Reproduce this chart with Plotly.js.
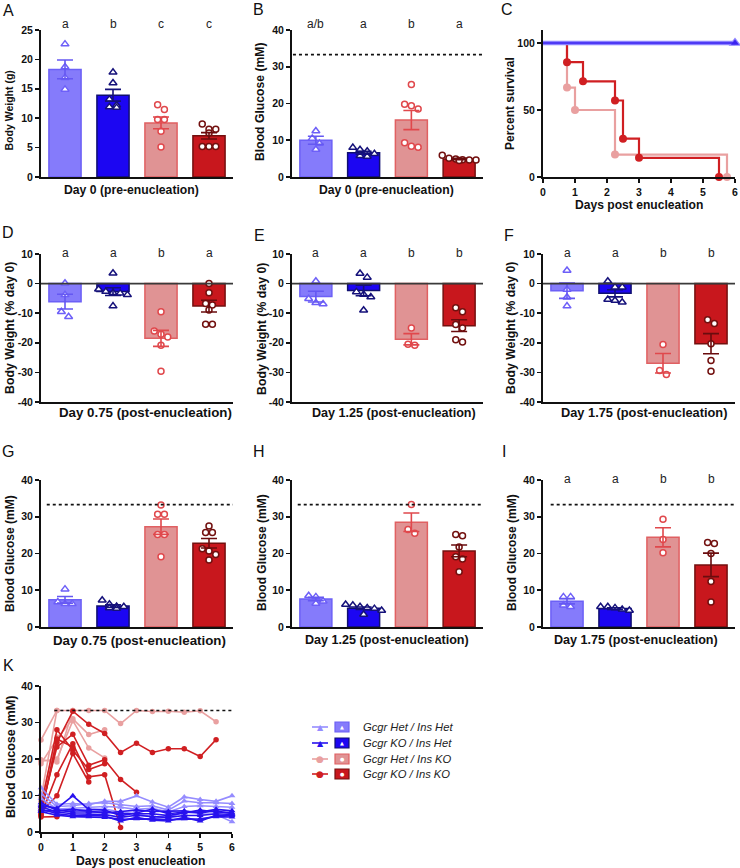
<!DOCTYPE html>
<html><head><meta charset="utf-8">
<script src="https://cdn.plot.ly/plotly-3.0.1.min.js"></script>
<style>html,body{margin:0;padding:0;background:#fff}#chart{width:740px;height:868px}</style>
</head><body><div id="chart"></div>
<script>
// ================= DATA =================
const groups = ['Gcgr Het / Ins Het', 'Gcgr KO / Ins Het', 'Gcgr Het / Ins KO', 'Gcgr KO / Ins KO'];

// A: body weight day 0 (g)
const bwDay0Pts = [[22.6,18.7,16.9,14.9],[17.8,16.0,13.2,12.2,11.9,11.8],[12.3,11.5,9.8,9.8,7.8,5.1],[9.0,8.1,8.1,7.5,5.2,5.2,5.2]];
const bwDay0Mean = [18.3, 13.9, 9.2, 7.0];
const bwDay0Sem = [1.6, 1.0, 1.0, 0.55];
const bwDay0Sig = ['a','b','c','c'];

// B: blood glucose day 0 (mM)
const bgDay0Pts = [[12.5,10.5,9.1,7.5],[8.0,7.4,7.0,6.3,5.8,5.6],[25.2,19.8,19.4,18.5,9.3,8.4,8.1],[5.9,5.1,4.9,4.7,4.6,4.6,4.5]];
const bgDay0Mean = [10.0, 6.6, 15.5, 4.9];
const bgDay0Sem = [1.1, 0.4, 2.6, 0.2];
const bgDay0Sig = ['a/b','a','b','a'];

// C: survival (%)
const survTimeHet = [0, 6];
const survHetHet = [100, 100];
const survKOHet = [100, 100];
const survTimeHetKO = [0, 0.75, 1, 2.25, 5.75];
const survHetKO = [100, 66.7, 50, 16.7, 0];
const survTimeKOKO = [0, 0.75, 1.25, 2.25, 2.5, 3, 5.5];
const survKOKO = [100, 85.7, 71.4, 57.1, 28.6, 14.3, 0];

// D: body weight % day 0, day 0.75
const bw075Pts = [[0.1,-3.8,-9.5,-11.2],[3.5,-1.9,-2.7,-3.1,-3.3,-3.8,-7.6],[-9.5,-16.0,-17.1,-18.0,-20.8,-29.6],[0.0,-3.1,-6.7,-7.2,-8.9,-13.7,-13.7]];
const bw075Mean = [-6.1, -2.7, -18.5, -7.6];
const bw075Sem = [2.5, 1.3, 2.7, 2.0];
const bw075Sig = ['a','a','b','a'];

// E: day 1.25
const bw125Pts = [[0.8,-5.1,-6.5,-6.9],[3.4,2.1,-2.8,-3.7,-4.5,-9.0],[-15.0,-20.5,-20.8],[-8.2,-9.5,-13.8,-15.0,-19.0,-19.7]];
const bw125Mean = [-4.4, -2.3, -18.8, -14.2];
const bw125Sem = [1.8, 1.8, 1.9, 2.0];
const bw125Sig = ['a','a','b','b'];

// F: day 1.75
const bw175Pts = [[4.4,-2.0,-4.6,-7.6],[0.8,-1.2,-1.2,-5.4,-5.7,-6.3],[-20.6,-29.4,-30.7],[-12.2,-13.5,-20.3,-26.0,-29.6]];
const bw175Mean = [-2.4, -3.3, -26.9, -20.3];
const bw175Sem = [2.6, 1.2, 3.3, 3.4];
const bw175Sig = ['a','a','b','b'];

// G: blood glucose day 0.75
const bg075Pts = [[10.3,6.8,6.3,6.3],[7.3,6.2,5.6,5.5,5.2,5.0],[33.2,30.7,30.7,25.2,25.2,19.1],[27.5,25.7,25.7,21.3,20.7,19.7,18.2]];
const bg075Mean = [7.4, 5.7, 27.3, 22.8];
const bg075Sem = [0.9, 0.35, 2.1, 1.3];

// H: day 1.25
const bg125Pts = [[8.5,8.2,7.0,6.4],[6.1,5.9,5.5,5.2,5.0,4.5,3.4],[33.3,26.5,25.5],[25.2,24.8,21.8,19.1,18.5,15.0]];
const bg125Mean = [7.6, 5.1, 28.5, 20.7];
const bg125Sem = [0.45, 0.35, 2.5, 1.6];

// I: day 1.75
const bg175Pts = [[8.2,8.2,5.9,5.5],[5.5,5.5,5.2,4.8,4.5],[29.3,23.8,20.2],[23.0,22.7,20.0,12.4,6.8]];
const bg175Mean = [7.0, 5.0, 24.4, 16.9];
const bg175Sem = [0.7, 0.25, 2.6, 3.2];
const bg175Sig = ['a','a','b','b'];

// glucometer upper limit (mM)
const meterMax = 33.3;

// K: individual blood glucose over time
const days = [0,0.5,1,1.5,2,2.5,3,3.5,4,4.5,5,5.5,6];
const kHetHet = [
  [12.1,7.6,7.8,7.5,8.4,8.4,9.9,8.2,6.8,9.6,8.9,8.4,9.9],
  [10.5,7.0,7.2,7.8,8.0,7.5,7.0,7.2,6.0,8.5,8.0,8.0,7.8],
  [9.2,6.3,6.5,6.8,7.0,6.8,6.2,6.5,5.5,7.0,7.2,7.0,6.8],
  [7.6,6.0,6.0,6.2,6.3,5.5,5.0,4.2,4.0,5.5,5.0,4.8,2.8]];
const kKOHet = [
  [7.3,6.5,9.9,6.2,6.0,4.5,5.2,6.3,5.0,5.5,5.5,6.2,5.8],
  [8.0,6.0,5.5,5.5,5.5,5.0,5.0,5.0,4.5,5.2,6.0,5.5,5.3],
  [6.9,5.5,5.0,5.0,4.8,4.0,4.6,4.2,4.0,4.5,4.5,5.0,4.8],
  [6.3,5.0,4.5,4.6,4.4,3.0,4.0,3.2,3.0,4.0,3.0,4.6,4.5],
  [5.6,4.6,4.2,4.2,4.0,3.5,3.6,3.6,3.4,3.6,3.6,4.2,4.1],
  [5.8,5.8,6.2,5.6,5.2,5.6,6.0,5.6,5.6,5.8,5.2,5.8,5.0]];
const kHetKO = [
  [25.2,33.3,33.3,33.3,33.3,29.7,33.3,33.0,33.1,32.8,33.2,30.2],
  [18.7,25.5,31.0,26.7,28.0],
  [19.4,20.0,30.5,23.0,20.3],
  [19.8,19.2,33.3],
  [9.3,33.3],
  [8.4,26.0]];
const kKOKO = [
  [5.0,24.5,33.1,29.5,27.0,21.8,24.3,21.8,22.8,22.8,20.7,25.3],
  [6.0,23.3,26.8,18.3,19.8,14.4,10.9],
  [4.5,15.7,24.2,15.1,15.7,1.2],
  [7.0,28.0,22.4,17.1,18.7],
  [5.5,9.9,21.5,13.7],
  [4.8,25.5,23.3],
  [4.1,4.2]];

// ================= STYLE / LAYOUT =================
const W = 740, H = 868;
const FONT = 'Liberation Sans, Arial, Helvetica, sans-serif';
const barFill = ['#857bfb', '#1c06f2', '#e09394', '#c8171d'];
const barEdge = ['#6c60f6', '#101070', '#e06062', '#74100f'];
const ptEdge  = ['#6d5ff8', '#15117a', '#e0484c', '#72100f'];
const errCol  = ['#6558f2', '#15117a', '#e0484c', '#6a0c0e'];
const lineCol = ['#958cff', '#2812ee', '#e9a0a0', '#d01f22'];

const layout = {
  width: W, height: H, margin: {l:0, r:0, t:0, b:0},
  paper_bgcolor: '#ffffff', plot_bgcolor: 'rgba(0,0,0,0)',
  showlegend: false, barmode: 'overlay',
  font: {family: FONT, color: '#111'},
  annotations: [], shapes: []
};
const traces = [];

function sfx(n){ return n === 1 ? '' : String(n); }
function ann(text, px, py, o){
  layout.annotations.push(Object.assign({text: text, x: px / W, y: 1 - py / H, xref: 'paper', yref: 'paper',
    showarrow: false, xanchor: 'center', yanchor: 'middle',
    font: {family: FONT, size: 12, color: '#111'}}, o || {}));
}
function bold(size){ return {family: FONT, size: size, color: '#111', weight: 'bold'}; }

function addAxes(p, xopt, yopt){
  const s = sfx(p.n);
  layout['xaxis' + s] = Object.assign({domain: [p.x0 / W, p.x1 / W], anchor: 'y' + s, showline: true, linewidth: 2,
    linecolor: '#111', showgrid: false, zeroline: false, ticks: '', showticklabels: false, fixedrange: true}, xopt || {});
  layout['yaxis' + s] = Object.assign({domain: [1 - p.yB / H, 1 - p.yT / H], anchor: 'x' + s, showline: true,
    linewidth: 2, linecolor: '#111', showgrid: false, zeroline: false, ticks: 'outside', ticklen: 4, tickwidth: 1.6,
    tickcolor: '#111', range: p.yr, tickfont: bold(10.5), fixedrange: true}, yopt || {});
}

function swarmOffsets(vals, pxPerUnit, pxPerCat, size){
  const idx = vals.map((v, i) => i).sort((a, b) => vals[b] - vals[a]);
  const off = new Array(vals.length).fill(0);
  let row = [], rowTop = null;
  const flush = () => { row.forEach((i, j) => { off[i] = (j - (row.length - 1) / 2) * size * 0.9 / pxPerCat; }); row = []; };
  for (const i of idx){
    const y = vals[i] * pxPerUnit;
    if (row.length && row.length < 6 && rowTop - y < size * 0.85) row.push(i);
    else { flush(); row = [i]; rowTop = y; }
  }
  flush();
  return off;
}

function tickArr(lo, hi, step){ const v = []; for (let t = lo; t <= hi + 1e-9; t += step) v.push(t); return v; }

function barPanel(p, pts, mean, sem){
  const s = sfx(p.n);
  const tv = tickArr(p.yr[0], p.yr[1], p.dt);
  addAxes(p, {range: [-0.5, 3.5]}, {tickmode: 'array', tickvals: tv, ticktext: tv.map(String)});
  const pxPerUnit = (p.yB - p.yT) / (p.yr[1] - p.yr[0]);
  const pxPerCat = (p.x1 - p.x0) / 4;
  for (let g = 0; g < 4; g++){
    traces.push({type: 'bar', x: [g], y: [mean[g]], width: 0.67, xaxis: 'x' + s, yaxis: 'y' + s,
      marker: {color: barFill[g], line: {color: barEdge[g], width: 1.5}}, hoverinfo: 'skip', name: groups[g]});
  }
  for (let g = 0; g < 4; g++){
    const tri = g < 2;
    const off = swarmOffsets(pts[g], pxPerUnit, pxPerCat, tri ? 8 : 7.5);
    traces.push({type: 'scatter', mode: 'markers', x: pts[g].map((v, i) => g + off[i]), y: pts[g],
      xaxis: 'x' + s, yaxis: 'y' + s, cliponaxis: false, hoverinfo: 'skip', name: groups[g],
      marker: {symbol: tri ? 'triangle-up' : 'circle', size: tri ? 7 : 6, color: '#ffffff',
        line: {color: ptEdge[g], width: 1.5}}});
  }
  for (let g = 0; g < 4; g++){
    traces.push({type: 'scatter', mode: 'markers', x: [g], y: [mean[g]], xaxis: 'x' + s, yaxis: 'y' + s,
      cliponaxis: false, hoverinfo: 'skip', name: groups[g], marker: {size: 1, color: 'rgba(0,0,0,0)'},
      error_y: {type: 'data', array: [sem[g]], visible: true, color: errCol[g], thickness: 1.6, width: 8}});
  }
}

function sig(p, letters, py){
  letters.forEach((t, g) => {
    layout.annotations.push({text: t, x: g, xref: 'x' + sfx(p.n), y: 1 - py / H, yref: 'paper', showarrow: false,
      xanchor: 'center', yanchor: 'middle', font: {family: FONT, size: 12, color: '#222'}});
  });
}
function dotted(p, val, fromFrac){
  layout.shapes.push({type: 'line', xref: 'x' + sfx(p.n) + ' domain', yref: 'y' + sfx(p.n), x0: fromFrac, x1: 1,
    y0: val, y1: val, line: {color: '#111', width: 1.6, dash: 'dot'}});
}
function zeroLine(p){
  layout.shapes.push({type: 'line', xref: 'x' + sfx(p.n) + ' domain', yref: 'y' + sfx(p.n), x0: 0, x1: 1,
    y0: 0, y1: 0, layer: 'above', line: {color: '#3a3a3a', width: 1.6}});
}

// ---- panel geometry (pixels) ----
const pA = {n: 1, x0: 41, x1: 233, yT: 30, yB: 177, yr: [0, 25], dt: 5};
const pB = {n: 2, x0: 292, x1: 483, yT: 30, yB: 177, yr: [0, 40], dt: 10};
const pC = {n: 3, x0: 543, x1: 735, yT: 29.6, yB: 177, yr: [0, 110]};
const pD = {n: 4, x0: 41, x1: 233, yT: 254, yB: 402, yr: [-40, 10], dt: 10};
const pE = {n: 5, x0: 292, x1: 483, yT: 254, yB: 402, yr: [-40, 10], dt: 10};
const pF = {n: 6, x0: 543, x1: 735, yT: 254, yB: 402, yr: [-40, 10], dt: 10};
const pG = {n: 7, x0: 41, x1: 233, yT: 480, yB: 627, yr: [0, 40], dt: 10};
const pH = {n: 8, x0: 292, x1: 483, yT: 480, yB: 627, yr: [0, 40], dt: 10};
const pI = {n: 9, x0: 543, x1: 735, yT: 480, yB: 627, yr: [0, 40], dt: 10};
const pK = {n: 10, x0: 41, x1: 232, yT: 686, yB: 832, yr: [0, 40], dt: 10};

// ---- bar panels ----
barPanel(pA, bwDay0Pts, bwDay0Mean, bwDay0Sem);
barPanel(pB, bgDay0Pts, bgDay0Mean, bgDay0Sem);
barPanel(pD, bw075Pts, bw075Mean, bw075Sem);
barPanel(pE, bw125Pts, bw125Mean, bw125Sem);
barPanel(pF, bw175Pts, bw175Mean, bw175Sem);
barPanel(pG, bg075Pts, bg075Mean, bg075Sem);
barPanel(pH, bg125Pts, bg125Mean, bg125Sem);
barPanel(pI, bg175Pts, bg175Mean, bg175Sem);

sig(pA, bwDay0Sig, 24); sig(pB, bgDay0Sig, 24);
sig(pD, bw075Sig, 253); sig(pE, bw125Sig, 253); sig(pF, bw175Sig, 253);
sig(pI, bg175Sig, 479);
dotted(pB, meterMax, 0.005); dotted(pG, meterMax, 0.03); dotted(pH, meterMax, 0.03); dotted(pI, meterMax, 0.04);
zeroLine(pD); zeroLine(pE); zeroLine(pF);

// ---- C: survival ----
addAxes(pC, {range: [0, 6], ticks: 'outside', ticklen: 4, tickwidth: 1.6, tickcolor: '#111', showticklabels: true,
  tickfont: bold(10.5), tickmode: 'array', tickvals: [0,1,2,3,4,5,6]},
  {tickmode: 'array', tickvals: [0, 50, 100]});
function survLine(t, s, col, w, sym, msize, markAll){
  traces.push({type: 'scatter', mode: 'lines', x: t, y: s, line: {shape: 'hv', color: col, width: w},
    xaxis: 'x3', yaxis: 'y3', cliponaxis: false, hoverinfo: 'skip'});
  traces.push({type: 'scatter', mode: 'markers', x: t.slice(1), y: s.slice(1), xaxis: 'x3', yaxis: 'y3',
    cliponaxis: false, hoverinfo: 'skip', marker: {symbol: sym, size: msize, color: col}});
}
survLine(survTimeHetKO, survHetKO, lineCol[2], 2.2, 'circle', 8);
survLine(survTimeKOKO, survKOKO, lineCol[3], 2.2, 'circle', 8);
survLine(survTimeHet, survHetHet, '#8c82ff', 4.5, 'triangle-up', 11);
survLine(survTimeHet, survKOHet, '#3a22f0', 1.6, 'triangle-up', 7);

// ---- K: time course ----
addAxes(pK, {range: [0, 6], ticks: 'outside', ticklen: 4, tickwidth: 1.6, tickcolor: '#111', showticklabels: true,
  tickfont: bold(10.5), tickmode: 'array', tickvals: [0,1,2,3,4,5,6]},
  {tickmode: 'array', tickvals: [0,10,20,30,40]});
function kLines(sets, g, sym, size){
  sets.forEach(v => traces.push({type: 'scatter', mode: 'lines+markers', x: days.slice(0, v.length), y: v,
    xaxis: 'x10', yaxis: 'y10', cliponaxis: false, hoverinfo: 'skip', name: groups[g],
    line: {color: lineCol[g], width: 1.6}, marker: {symbol: sym, size: size, color: lineCol[g]}}));
}
kLines(kHetKO, 2, 'circle', 5.5);
kLines(kKOKO, 3, 'circle', 5.5);
kLines(kHetHet, 0, 'triangle-up', 6);
kLines(kKOHet, 1, 'triangle-up', 6);
dotted(pK, meterMax, 0.07);

// ---- axis titles (as text) ----
const yT = [
  ['Body Weight (g)', 8.5, 111, 10.5], ['Blood Glucose (mM)', 260, 102, 12.2], ['Percent survival', 510, 103, 12],
  ['Body Weight (% day 0)', 10, 328, 12.3], ['Body Weight (% day 0)', 262, 329, 12.3], ['Body Weight (% day 0)', 511, 328, 12.3],
  ['Blood Glucose (mM)', 10, 554, 12], ['Blood Glucose (mM)', 262, 553, 12], ['Blood Glucose (mM)', 512, 553, 12],
  ['Blood Glucose (mM)', 11, 757, 12.6]];
yT.forEach(t => ann(t[0], t[1], t[2], {textangle: -90, font: bold(t[3])}));
const xT = [
  ['Day 0 (pre-enucleation)', 131, 190, 12.2], ['Day 0 (pre-enucleation)', 386, 190, 12.2], ['Days post enucleation', 639, 205, 12.1],
  ['Day 0.75 (post-enucleation)', 145, 412, 13.3], ['Day 1.25 (post-enucleation)', 394, 413, 12.6], ['Day 1.75 (post-enucleation)', 644, 412, 12.8],
  ['Day 0.75 (post-enucleation)', 139, 640, 13.3], ['Day 1.25 (post-enucleation)', 387, 640, 12.6], ['Day 1.75 (post-enucleation)', 636, 640, 12.6],
  ['Days post enucleation', 140, 861, 12.2]];
xT.forEach(t => ann(t[0], t[1], t[2], {font: bold(t[3])}));

// ---- panel letters ----
[['A', 8, 10], ['B', 258, 9], ['C', 507, 9], ['D', 8, 233], ['E', 259, 235], ['F', 509, 235],
 ['G', 8, 452], ['H', 259, 452], ['I', 504, 452], ['K', 8, 665]].forEach(l =>
  ann(l[0], l[1], l[2], {font: {family: FONT, size: 16, color: '#111'}}));

// ---- legend for K ----
const legRows = [727, 743, 759, 774];
groups.forEach((name, g) => {
  const py = legRows[g];
  const yy = 1 - py / H;
  layout.shapes.push({type: 'line', xref: 'paper', yref: 'paper', x0: 312 / W, x1: 328 / W, y0: yy, y1: yy,
    line: {color: lineCol[g], width: 1.6}});
  layout.shapes.push({type: 'rect', xref: 'paper', yref: 'paper', x0: 335 / W, x1: 349 / W,
    y0: 1 - (py + 5) / H, y1: 1 - (py - 5) / H, fillcolor: barFill[g], line: {color: barEdge[g], width: 1.2}});
  const glyph = g < 2 ? '\u25B2' : '\u25CF';
  ann(glyph, 320, py, {font: {family: 'DejaVu Sans', size: g < 2 ? 8 : 9, color: lineCol[g]}});
  ann(glyph, 342, py, {font: {family: 'DejaVu Sans', size: 5, color: '#ffffff'}});
  ann(name, 361, py, {xanchor: 'left', font: {family: FONT, size: 11.2, color: '#222', style: 'italic'}});
});

Plotly.newPlot('chart', traces, layout, {staticPlot: true, displayModeBar: false});
</script>
</body></html>
